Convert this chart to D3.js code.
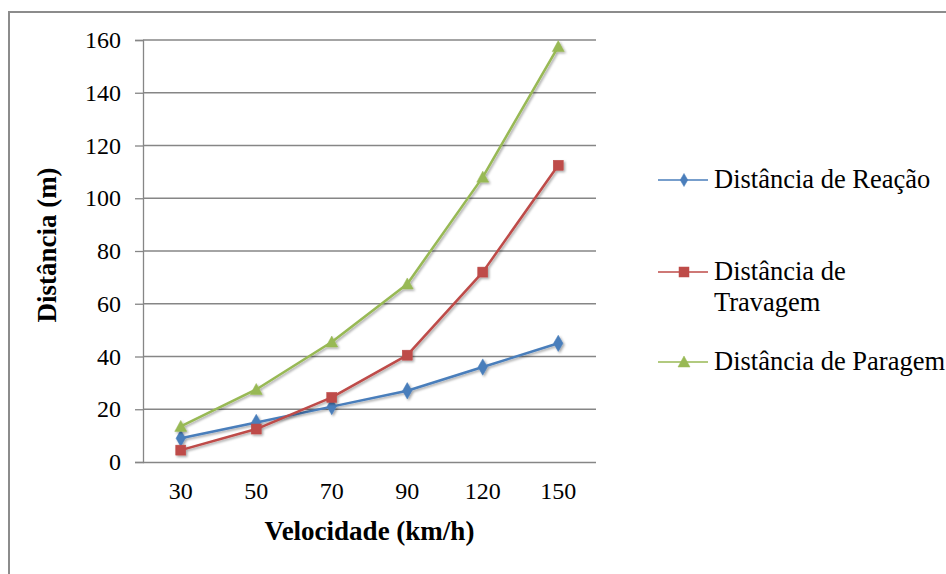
<!DOCTYPE html>
<html>
<head>
<meta charset="utf-8">
<script src="https://cdn.jsdelivr.net/npm/d3@7"></script>
<style>
  html, body { margin: 0; padding: 0; background: #fff; }
  svg { display: block; }
  text { font-family: "Liberation Serif", "Times New Roman", serif; fill: #000; }
</style>
</head>
<body>
<svg id="chart" width="946" height="574"></svg>
<script>
// Stopping distances by speed
const speeds = ["30", "50", "70", "90", "120", "150"];
const reacao = [9, 15, 21, 27, 36, 45];
const travagem = [4.5, 12.5, 24.5, 40.5, 72, 112.5];
const paragem = [13.5, 27.5, 45.5, 67.5, 108, 157.5];
const yTicks = [0, 20, 40, 60, 80, 100, 120, 140, 160];

const series = [
  { name: ["Distância de Reação"], values: reacao, color: "#4a7ebb", shape: "diamond" },
  { name: ["Distância de", "Travagem"], values: travagem, color: "#be4b48", shape: "square" },
  { name: ["Distância de Paragem"], values: paragem, color: "#98b954", shape: "triangle" }
];

const svg = d3.select("#chart");
const W = 946, H = 574;
const serif = "'Liberation Serif', 'Times New Roman', serif";

// Chart frame (left and top edges visible)
svg.append("path")
  .attr("d", `M9,${H} V12 H${W}`)
  .attr("fill", "none").attr("stroke", "#8c8c8c").attr("stroke-width", 2);

const plot = { left: 143, right: 596, top: 40, bottom: 462 };

const x = d3.scaleBand().domain(speeds).range([plot.left, plot.right]);
const y = d3.scaleLinear().domain([0, 160]).range([plot.bottom, plot.top]);

const defs = svg.append("defs");
const f = defs.append("filter").attr("id", "shadow")
  .attr("x", "-50%").attr("y", "-50%").attr("width", "200%").attr("height", "200%");
f.append("feDropShadow").attr("dx", 1.5).attr("dy", 1.5).attr("stdDeviation", 1.2)
  .attr("flood-color", "#000").attr("flood-opacity", 0.35);

// Gridlines + y axis
const yAxis = d3.axisLeft(y).tickValues(yTicks).tickSize(8).tickPadding(14);
const gy = svg.append("g").attr("transform", `translate(${plot.left},0)`).call(yAxis);
gy.select(".domain").attr("stroke", "#868686").attr("stroke-width", 1.3);
gy.selectAll(".tick line").attr("stroke", "#868686").attr("stroke-width", 1.3);
gy.selectAll(".tick text").style("font-size", "24px").style("font-family", serif);

svg.append("g").selectAll("line").data(yTicks.filter(d => d > 0)).join("line")
  .attr("x1", plot.left).attr("x2", plot.right)
  .attr("y1", d => y(d)).attr("y2", d => y(d))
  .attr("stroke", "#868686").attr("stroke-width", 1.3);

// x axis
const xAxis = d3.axisBottom(x).tickSize(0).tickPadding(20);
const gx = svg.append("g").attr("transform", `translate(0,${plot.bottom})`).call(xAxis);
gx.select(".domain").attr("d", `M${plot.left},0.5H${plot.right}`)
  .attr("stroke", "#868686").attr("stroke-width", 1.3);
gx.selectAll(".tick text").style("font-size", "24px").style("font-family", serif);

// Axis titles
svg.append("text")
  .attr("x", (plot.left + plot.right) / 2).attr("y", 540)
  .attr("text-anchor", "middle").style("font-size", "27px").style("font-weight", "bold")
  .text("Velocidade (km/h)");
svg.append("text")
  .attr("transform", `translate(56,${(plot.top + plot.bottom) / 2 - 6}) rotate(-90)`)
  .attr("text-anchor", "middle").style("font-size", "27px").style("font-weight", "bold")
  .text("Distância (m)");

function marker(g, shape, color, size) {
  if (shape === "diamond") {
    g.append("path").attr("d", d3.symbol(d3.symbolDiamond, size * 1.1)())
      .attr("fill", color).attr("stroke", color).attr("stroke-width", 0.5);
  } else if (shape === "square") {
    g.append("rect").attr("x", -5).attr("y", -5).attr("width", 10).attr("height", 10)
      .attr("fill", color).attr("stroke", color).attr("stroke-width", 0.5);
  } else {
    g.append("path").attr("d", "M0,-6 L6,5 L-6,5 Z")
      .attr("fill", color).attr("stroke", color).attr("stroke-width", 0.5);
  }
}

const cx = d => x(d) + x.bandwidth() / 2;
const line = d3.line().x(d => cx(d[0])).y(d => y(d[1]));

series.forEach(s => {
  const pts = speeds.map((k, i) => [k, s.values[i]]);
  const g = svg.append("g").attr("filter", "url(#shadow)");
  g.append("path").attr("d", line(pts))
    .attr("fill", "none").attr("stroke", s.color).attr("stroke-width", 2.5)
    .attr("stroke-linejoin", "round");
  pts.forEach(p => {
    const m = g.append("g").attr("transform", `translate(${cx(p[0])},${y(p[1])})`);
    marker(m, s.shape, s.color, 70);
  });
});

// Legend
const legendRows = [180, 272, 362];
series.forEach((s, i) => {
  const ly = legendRows[i];
  const g = svg.append("g");
  g.append("line").attr("x1", 658).attr("x2", 708).attr("y1", ly).attr("y2", ly)
    .attr("stroke", s.color).attr("stroke-width", 1.5);
  const m = g.append("g").attr("transform", `translate(684,${ly})`);
  marker(m, s.shape, s.color, 45);
  s.name.forEach((t, j) => {
    g.append("text").attr("x", 714).attr("y", ly + 8 + j * 31)
      .style("font-size", "26.5px").text(t);
  });
});
</script>
</body>
</html>
